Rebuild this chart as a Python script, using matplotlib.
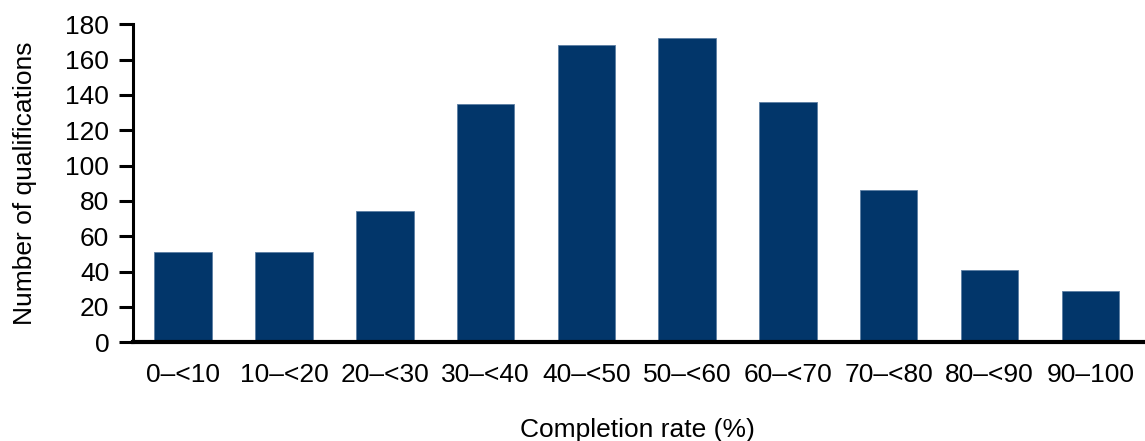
import matplotlib
matplotlib.use("Agg")
import matplotlib.pyplot as plt
import numpy as np

plt.rcParams['font.family'] = ['Liberation Sans', 'DejaVu Sans']

categories = ["0\u2013<10", "10\u2013<20", "20\u2013<30", "30\u2013<40", "40\u2013<50",
              "50\u2013<60", "60\u2013<70", "70\u2013<80", "80\u2013<90", "90\u2013100"]
counts = [51, 51, 74, 135, 168, 172, 136, 86, 41, 29]
yticks = [0, 20, 40, 60, 80, 100, 120, 140, 160, 180]

fig = plt.figure(figsize=(11.45, 4.41), dpi=100)
ax = fig.add_axes([0.116, 0.224, 0.882, 0.721])

x = np.arange(len(categories))
ax.bar(x, counts, width=0.57, color='#02366a', edgecolor='#5b7ea3', linewidth=0.6)

ax.set_xlim(-0.5, 9.52)
ax.set_ylim(0, 180)
ax.set_yticks(yticks)
ax.set_xticks(x)
ax.set_xticklabels(categories)

ax.spines['top'].set_visible(False)
ax.spines['right'].set_visible(False)
ax.spines['left'].set_linewidth(2.2)
ax.spines['bottom'].set_linewidth(3)
ax.tick_params(axis='y', length=10, width=2.2, labelsize=19, pad=7)
ax.tick_params(axis='x', length=0, labelsize=19, pad=15)

ax.set_xlabel("Completion rate (%)", fontsize=19, labelpad=22)
ax.set_ylabel("Number of qualifications", fontsize=19, labelpad=20)

fig.savefig("out.png", dpi=100)
